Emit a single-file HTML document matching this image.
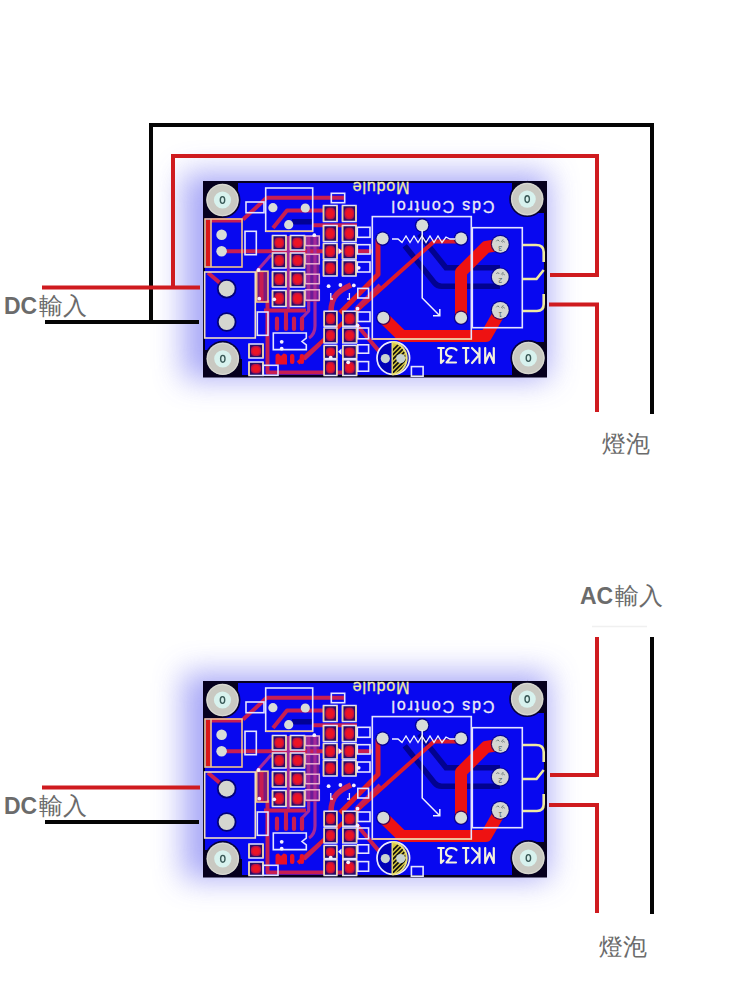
<!DOCTYPE html>
<html><head><meta charset="utf-8">
<style>
html,body{margin:0;padding:0;background:#fff;width:750px;height:1000px;overflow:hidden}
svg{display:block}
.lbl{font-family:"Liberation Sans",sans-serif;fill:#6b6b6b}
</style></head>
<body>
<svg width="750" height="1000" viewBox="0 0 750 1000">
<defs>
<radialGradient id="pg" cx="0.5" cy="0.5" r="0.6"><stop offset="0.5" stop-color="#ec1424"/><stop offset="0.8" stop-color="#b0104a"/><stop offset="1" stop-color="#3a0660"/></radialGradient>
<filter id="glow" x="-40%" y="-60%" width="180%" height="220%">
<feGaussianBlur stdDeviation="15"/>
</filter>
<g id="pcb">
<rect x="188" y="176" width="366" height="206" fill="#8c8cf4" opacity="0.75" filter="url(#glow)" transform="translate(-5,-3)"/>
<rect x="203" y="181" width="344" height="196.5" fill="#06001e"/>
<rect x="205" y="183" width="339" height="192" fill="#0808f0"/>
<path d="M222.5 200 L203.0 200 A19.5 19.5 0 0 0 222.5 180.5 Z" fill="#06001e"/>
<rect x="205" y="183" width="17.5" height="35" fill="#06001e"/>
<rect x="205" y="183" width="33" height="17" fill="#06001e"/>
<path d="M527.2 199.1 L546.7 199.1 A19.5 19.5 0 0 1 527.2 179.6 Z" fill="#06001e"/>
<rect x="527" y="183" width="17" height="30" fill="#06001e"/>
<rect x="512" y="183" width="32" height="16" fill="#06001e"/>
<path d="M528.4 358 L547.9 358 A19.5 19.5 0 0 0 528.4 377.5 Z" fill="#06001e"/>
<rect x="528" y="342" width="16" height="33" fill="#06001e"/>
<rect x="512" y="358" width="32" height="17" fill="#06001e"/>
<path d="M222.8 358.8 L203.3 358.8 A19.5 19.5 0 0 1 222.8 378.3 Z" fill="#06001e"/>
<rect x="205" y="350" width="18" height="25" fill="#06001e"/>
<rect x="212" y="359" width="30" height="16" fill="#06001e"/>
<g fill="none" stroke-linejoin="round">
<path d="M412 240 L441.6 277 H500" stroke="#000070" stroke-width="24" opacity="0.75"/>
<path d="M412 240 L441.6 277 H500" stroke="#1212f4" stroke-width="13"/>
</g>
<rect x="292" y="219" width="20" height="5.5" fill="#000080" opacity="0.8"/>
<rect x="305.5" y="236" width="14" height="66" fill="#7e1e86" opacity="0.85"/>
<rect x="256.7" y="271.3" width="11.3" height="30.7" fill="#8a1e70" opacity="0.9"/>
<g fill="none" stroke="#c81e52" stroke-width="4" stroke-linejoin="round">
<path d="M221 251.3 H372"/>
<path d="M243 219.5 L266.7 197.8 H345"/>
<path d="M273 228 L287 210.6 H323"/>
<path d="M312 225.3 H357"/>
<path d="M211 220.5 H243"/>
<path d="M208 272.7 L226.7 288.7"/>
<path d="M261.5 271 V302"/>
<path d="M267.5 300 V372.5 H345"/>
<path d="M298 363 L434 241.5 H461" stroke="#dc1a2a"/>
<path d="M378 239 V274.4 L340 313" stroke-width="5" stroke="#dc1a2a"/>
<path d="M351 285 Q342 289 337 294 Q331 300 331 312" stroke-width="5.5"/>
<path d="M356 309 L380 285"/>
<path d="M356 324 L385.3 358.6"/>
<path d="M264 310.5 H306 M286 310.5 V318"/>
<path d="M304 359 L320 344"/>
</g>
<g fill="none" stroke="#a4289a" stroke-width="3.2" stroke-linejoin="round">
<path d="M302 318 L308.7 311 V236"/>
<path d="M288.5 236 V309"/>
<path d="M315 236 V326 Q315 334 309 338"/>
<path d="M256.7 271.3 L271.3 254.7"/>
</g>
<g fill="none" stroke="#c81e52" stroke-width="4.2" stroke-linecap="round">
<path d="M277 318.5 V329 M286 318.5 V329 M294 318.5 V329 M302 318.5 V329"/>
</g>
<rect x="206" y="220" width="4.5" height="46" fill="#d81818"/>
<g fill="none" stroke="#ee1212" stroke-width="12" stroke-linejoin="round" stroke-linecap="round">
<path d="M498 245 L486 247 L461 272 V318"/>
<path d="M383.3 317.8 L402 336 H486 L500.3 311"/>
</g>
<rect x="272.5" y="235.5" width="13.5" height="14.5" fill="#20106a"/>
<rect x="274.3" y="237.5" width="9.9" height="10.5" fill="url(#pg)"/>
<rect x="272.5" y="235.5" width="13.5" height="14.5" fill="none" stroke="#e4e4ff" stroke-width="1.5"/>
<path d="M272.5 235.5 V250 M286 235.5 V250" stroke="#f2d49a" stroke-width="1.5"/>
<rect x="272.5" y="253" width="13.5" height="15.0" fill="#20106a"/>
<rect x="274.3" y="255.0" width="9.9" height="11.0" fill="url(#pg)"/>
<rect x="272.5" y="253" width="13.5" height="15.0" fill="none" stroke="#e4e4ff" stroke-width="1.5"/>
<path d="M272.5 253 V268 M286 253 V268" stroke="#f2d49a" stroke-width="1.5"/>
<rect x="272.5" y="271.5" width="13.5" height="15.5" fill="#20106a"/>
<rect x="274.3" y="273.5" width="9.9" height="11.5" fill="url(#pg)"/>
<rect x="272.5" y="271.5" width="13.5" height="15.5" fill="none" stroke="#e4e4ff" stroke-width="1.5"/>
<path d="M272.5 271.5 V287 M286 271.5 V287" stroke="#f2d49a" stroke-width="1.5"/>
<rect x="272.5" y="290.5" width="13.5" height="16.0" fill="#20106a"/>
<rect x="274.3" y="292.5" width="9.9" height="12.0" fill="url(#pg)"/>
<rect x="272.5" y="290.5" width="13.5" height="16.0" fill="none" stroke="#e4e4ff" stroke-width="1.5"/>
<path d="M272.5 290.5 V306.5 M286 290.5 V306.5" stroke="#f2d49a" stroke-width="1.5"/>
<rect x="290.5" y="235.5" width="14.0" height="14.5" fill="#20106a"/>
<rect x="292.3" y="237.5" width="10.4" height="10.5" fill="url(#pg)"/>
<rect x="290.5" y="235.5" width="14.0" height="14.5" fill="none" stroke="#e4e4ff" stroke-width="1.5"/>
<path d="M290.5 235.5 V250 M304.5 235.5 V250" stroke="#f2d49a" stroke-width="1.5"/>
<rect x="290.5" y="253" width="14.0" height="15.0" fill="#20106a"/>
<rect x="292.3" y="255.0" width="10.4" height="11.0" fill="url(#pg)"/>
<rect x="290.5" y="253" width="14.0" height="15.0" fill="none" stroke="#e4e4ff" stroke-width="1.5"/>
<path d="M290.5 253 V268 M304.5 253 V268" stroke="#f2d49a" stroke-width="1.5"/>
<rect x="290.5" y="271.5" width="14.0" height="15.5" fill="#20106a"/>
<rect x="292.3" y="273.5" width="10.4" height="11.5" fill="url(#pg)"/>
<rect x="290.5" y="271.5" width="14.0" height="15.5" fill="none" stroke="#e4e4ff" stroke-width="1.5"/>
<path d="M290.5 271.5 V287 M304.5 271.5 V287" stroke="#f2d49a" stroke-width="1.5"/>
<rect x="290.5" y="290.5" width="14.0" height="16.0" fill="#20106a"/>
<rect x="292.3" y="292.5" width="10.4" height="12.0" fill="url(#pg)"/>
<rect x="290.5" y="290.5" width="14.0" height="16.0" fill="none" stroke="#e4e4ff" stroke-width="1.5"/>
<path d="M290.5 290.5 V306.5 M304.5 290.5 V306.5" stroke="#f2d49a" stroke-width="1.5"/>
<rect x="323.5" y="205.5" width="13.5" height="16.0" fill="#20106a"/>
<rect x="325.3" y="207.5" width="9.9" height="12.0" fill="url(#pg)"/>
<rect x="323.5" y="205.5" width="13.5" height="16.0" fill="none" stroke="#e4e4ff" stroke-width="1.5"/>
<path d="M323.5 205.5 V221.5 M337 205.5 V221.5" stroke="#f2d49a" stroke-width="1.5"/>
<rect x="323.5" y="225.5" width="13.5" height="16.0" fill="#20106a"/>
<rect x="325.3" y="227.5" width="9.9" height="12.0" fill="url(#pg)"/>
<rect x="323.5" y="225.5" width="13.5" height="16.0" fill="none" stroke="#e4e4ff" stroke-width="1.5"/>
<path d="M323.5 225.5 V241.5 M337 225.5 V241.5" stroke="#f2d49a" stroke-width="1.5"/>
<rect x="323.5" y="243.5" width="13.5" height="15.5" fill="#20106a"/>
<rect x="325.3" y="245.5" width="9.9" height="11.5" fill="url(#pg)"/>
<rect x="323.5" y="243.5" width="13.5" height="15.5" fill="none" stroke="#e4e4ff" stroke-width="1.5"/>
<path d="M323.5 243.5 V259 M337 243.5 V259" stroke="#f2d49a" stroke-width="1.5"/>
<rect x="323.5" y="260.5" width="13.5" height="15.5" fill="#20106a"/>
<rect x="325.3" y="262.5" width="9.9" height="11.5" fill="url(#pg)"/>
<rect x="323.5" y="260.5" width="13.5" height="15.5" fill="none" stroke="#e4e4ff" stroke-width="1.5"/>
<path d="M323.5 260.5 V276 M337 260.5 V276" stroke="#f2d49a" stroke-width="1.5"/>
<rect x="342.5" y="205.5" width="13.5" height="16.0" fill="#20106a"/>
<rect x="344.3" y="207.5" width="9.9" height="12.0" fill="url(#pg)"/>
<rect x="342.5" y="205.5" width="13.5" height="16.0" fill="none" stroke="#e4e4ff" stroke-width="1.5"/>
<path d="M342.5 205.5 V221.5 M356 205.5 V221.5" stroke="#f2d49a" stroke-width="1.5"/>
<rect x="342.5" y="225.5" width="13.5" height="16.0" fill="#20106a"/>
<rect x="344.3" y="227.5" width="9.9" height="12.0" fill="url(#pg)"/>
<rect x="342.5" y="225.5" width="13.5" height="16.0" fill="none" stroke="#e4e4ff" stroke-width="1.5"/>
<path d="M342.5 225.5 V241.5 M356 225.5 V241.5" stroke="#f2d49a" stroke-width="1.5"/>
<rect x="342.5" y="243.5" width="13.5" height="15.5" fill="#20106a"/>
<rect x="344.3" y="245.5" width="9.9" height="11.5" fill="url(#pg)"/>
<rect x="342.5" y="243.5" width="13.5" height="15.5" fill="none" stroke="#e4e4ff" stroke-width="1.5"/>
<path d="M342.5 243.5 V259 M356 243.5 V259" stroke="#f2d49a" stroke-width="1.5"/>
<rect x="342.5" y="260.5" width="13.5" height="15.5" fill="#20106a"/>
<rect x="344.3" y="262.5" width="9.9" height="11.5" fill="url(#pg)"/>
<rect x="342.5" y="260.5" width="13.5" height="15.5" fill="none" stroke="#e4e4ff" stroke-width="1.5"/>
<path d="M342.5 260.5 V276 M356 260.5 V276" stroke="#f2d49a" stroke-width="1.5"/>
<rect x="324.2" y="311.2" width="12.6" height="15.0" fill="#20106a"/>
<rect x="326.0" y="313.2" width="9.0" height="11.0" fill="url(#pg)"/>
<rect x="324.2" y="311.2" width="12.6" height="15.0" fill="none" stroke="#e4e4ff" stroke-width="1.5"/>
<path d="M324.2 311.2 V326.2 M336.8 311.2 V326.2" stroke="#f2d49a" stroke-width="1.5"/>
<rect x="324.2" y="328" width="12.6" height="15.0" fill="#20106a"/>
<rect x="326.0" y="330.0" width="9.0" height="11.0" fill="url(#pg)"/>
<rect x="324.2" y="328" width="12.6" height="15.0" fill="none" stroke="#e4e4ff" stroke-width="1.5"/>
<path d="M324.2 328 V343 M336.8 328 V343" stroke="#f2d49a" stroke-width="1.5"/>
<rect x="324.2" y="345.4" width="12.6" height="13.2" fill="#20106a"/>
<rect x="326.0" y="347.4" width="9.0" height="9.2" fill="url(#pg)"/>
<rect x="324.2" y="345.4" width="12.6" height="13.2" fill="none" stroke="#e4e4ff" stroke-width="1.5"/>
<path d="M324.2 345.4 V358.6 M336.8 345.4 V358.6" stroke="#f2d49a" stroke-width="1.5"/>
<rect x="324.2" y="359.8" width="12.6" height="15.7" fill="#20106a"/>
<rect x="326.0" y="361.8" width="9.0" height="11.7" fill="url(#pg)"/>
<rect x="324.2" y="359.8" width="12.6" height="15.7" fill="none" stroke="#e4e4ff" stroke-width="1.5"/>
<path d="M324.2 359.8 V375.5 M336.8 359.8 V375.5" stroke="#f2d49a" stroke-width="1.5"/>
<rect x="342.8" y="311.2" width="13.8" height="15.0" fill="#20106a"/>
<rect x="344.6" y="313.2" width="10.2" height="11.0" fill="url(#pg)"/>
<rect x="342.8" y="311.2" width="13.8" height="15.0" fill="none" stroke="#e4e4ff" stroke-width="1.5"/>
<path d="M342.8 311.2 V326.2 M356.6 311.2 V326.2" stroke="#f2d49a" stroke-width="1.5"/>
<rect x="342.8" y="328" width="13.8" height="15.0" fill="#20106a"/>
<rect x="344.6" y="330.0" width="10.2" height="11.0" fill="url(#pg)"/>
<rect x="342.8" y="328" width="13.8" height="15.0" fill="none" stroke="#e4e4ff" stroke-width="1.5"/>
<path d="M342.8 328 V343 M356.6 328 V343" stroke="#f2d49a" stroke-width="1.5"/>
<rect x="342.8" y="345.4" width="13.8" height="13.2" fill="#20106a"/>
<rect x="344.6" y="347.4" width="10.2" height="9.2" fill="url(#pg)"/>
<rect x="342.8" y="345.4" width="13.8" height="13.2" fill="none" stroke="#e4e4ff" stroke-width="1.5"/>
<path d="M342.8 345.4 V358.6 M356.6 345.4 V358.6" stroke="#f2d49a" stroke-width="1.5"/>
<rect x="342.8" y="359.8" width="13.8" height="15.7" fill="#20106a"/>
<rect x="344.6" y="361.8" width="10.2" height="11.7" fill="url(#pg)"/>
<rect x="342.8" y="359.8" width="13.8" height="15.7" fill="none" stroke="#e4e4ff" stroke-width="1.5"/>
<path d="M342.8 359.8 V375.5 M356.6 359.8 V375.5" stroke="#f2d49a" stroke-width="1.5"/>
<rect x="249" y="344" width="14.0" height="14.0" fill="#20106a"/>
<rect x="250.8" y="346.0" width="10.4" height="10.0" fill="url(#pg)"/>
<rect x="249" y="344" width="14.0" height="14.0" fill="none" stroke="#e4e4ff" stroke-width="1.5"/>
<path d="M249 344 V358 M263 344 V358" stroke="#f2d49a" stroke-width="1.5"/>
<rect x="249" y="362" width="14.0" height="13.5" fill="#20106a"/>
<rect x="250.8" y="364.0" width="10.4" height="9.5" fill="url(#pg)"/>
<rect x="249" y="362" width="14.0" height="13.5" fill="none" stroke="#e4e4ff" stroke-width="1.5"/>
<path d="M249 362 V375.5 M263 362 V375.5" stroke="#f2d49a" stroke-width="1.5"/>
<path d="M275.5 356 Q275.5 353.5 278.5 353.5 L281 356 L283.5 353.5 Q287 353.5 287 356 V364.5 H275.5 Z" fill="#e8102a"/>
<rect x="290" y="354" width="4.4" height="10" rx="2" fill="#e8102a"/>
<rect x="299.7" y="354" width="4.4" height="10" rx="2" fill="#e8102a"/>
<rect x="265.7" y="188" width="47.0" height="43.3" fill="none" stroke="#e4e4ff" stroke-width="1.6"/>
<rect x="372.3" y="216.6" width="99.0" height="122.4" fill="none" stroke="#e4e4ff" stroke-width="1.6"/>
<rect x="472.3" y="227.7" width="50.0" height="100.0" fill="none" stroke="#e4e4ff" stroke-width="1.6"/>
<rect x="246" y="202" width="18.0" height="10.7" fill="none" stroke="#e4e4ff" stroke-width="1.6"/>
<rect x="245" y="231.3" width="11.3" height="23.4" fill="none" stroke="#e4e4ff" stroke-width="1.6"/>
<rect x="257.3" y="312" width="10.7" height="23.3" fill="none" stroke="#e4e4ff" stroke-width="1.6"/>
<rect x="331.3" y="193.3" width="13.4" height="9.4" fill="none" stroke="#e4e4ff" stroke-width="1.6"/>
<rect x="357.3" y="227.3" width="12.7" height="10.0" fill="none" stroke="#e4e4ff" stroke-width="1.6"/>
<rect x="357.3" y="244.7" width="12.7" height="9.3" fill="none" stroke="#e4e4ff" stroke-width="1.6"/>
<rect x="357.8" y="288.4" width="10.8" height="9.6" fill="none" stroke="#e4e4ff" stroke-width="1.6"/>
<rect x="357.8" y="328" width="10.8" height="10.8" fill="none" stroke="#e4e4ff" stroke-width="1.6"/>
<rect x="357.8" y="344.8" width="10.8" height="8.4" fill="none" stroke="#e4e4ff" stroke-width="1.6"/>
<rect x="357.8" y="361.6" width="10.8" height="9.6" fill="none" stroke="#e4e4ff" stroke-width="1.6"/>
<rect x="263.3" y="365.3" width="14.7" height="10.0" fill="none" stroke="#e4e4ff" stroke-width="1.6"/>
<rect x="411.4" y="366.6" width="11.7" height="9.6" fill="none" stroke="#e4e4ff" stroke-width="1.6"/>
<rect x="357.3" y="262" width="12.7" height="10.0" fill="none" stroke="#e4e4ff" stroke-width="1.6"/>
<rect x="357.8" y="312" width="12.2" height="9.5" fill="none" stroke="#e4e4ff" stroke-width="1.6"/>
<rect x="204.7" y="272" width="50.6" height="66.0" fill="none" stroke="#f0dcc0" stroke-width="1.6"/>
<rect x="205" y="219" width="37.0" height="48.0" fill="none" stroke="#f2c48a" stroke-width="1.6"/>
<path d="M211 219 V267" stroke="#f2c48a" stroke-width="1.6"/>
<rect x="256.7" y="271.3" width="11.3" height="30.7" fill="none" stroke="#f2c48a" stroke-width="1.6"/>
<path d="M273.3 333 H306.3 V338 L302 341.5 L306.3 345 V349.6 H273.3 Z" fill="none" stroke="#e4e4ff" stroke-width="1.6"/>
<rect x="305.5" y="236" width="13.8" height="9.6" fill="none" stroke="#e8b0d0" stroke-width="1.5"/>
<rect x="305.5" y="254.3" width="13.8" height="9.5" fill="none" stroke="#e8b0d0" stroke-width="1.5"/>
<rect x="305.5" y="274.2" width="13.8" height="9.5" fill="none" stroke="#e8b0d0" stroke-width="1.5"/>
<rect x="305.5" y="289.8" width="13.8" height="10.4" fill="none" stroke="#e8b0d0" stroke-width="1.5"/>
<path d="M265.7 231.3 H312.7" stroke="#f2c48a" stroke-width="1.6"/>
<path d="M372.3 339 H471.3" stroke="#f2c48a" stroke-width="1.6"/>
<circle cx="258.5" cy="270" r="1.9" fill="#f4f0ff"/>
<circle cx="259.3" cy="298.7" r="1.9" fill="#f4f0ff"/>
<circle cx="274.2" cy="299.3" r="1.9" fill="#f4f0ff"/>
<circle cx="281.7" cy="341.8" r="1.9" fill="#f4f0ff"/>
<circle cx="281.7" cy="348.7" r="1.9" fill="#f4f0ff"/>
<circle cx="328.6" cy="286.2" r="1.9" fill="#f4f0ff"/>
<circle cx="340.4" cy="285" r="1.9" fill="#f4f0ff"/>
<circle cx="353.8" cy="285.4" r="1.9" fill="#f4f0ff"/>
<circle cx="357.5" cy="308.7" r="1.9" fill="#f4f0ff"/>
<circle cx="357.5" cy="325.5" r="1.9" fill="#f4f0ff"/>
<circle cx="358.7" cy="267.8" r="1.9" fill="#f4f0ff"/>
<circle cx="330.7" cy="357.7" r="1.9" fill="#f4f0ff"/>
<circle cx="348.2" cy="362.3" r="1.9" fill="#f4f0ff"/>
<circle cx="314.3" cy="235.2" r="1.9" fill="#f4f0ff"/>
<path d="M338.5 248 L342 251.2 L338.5 254.5 Z" fill="#f4f0ff"/>
<path d="M341.5 348.5 L338 351.8 L341.5 355 Z" fill="#f4f0ff"/>
<path d="M330.8 293 V299 H333 M349.4 293 V299 H347" fill="none" stroke="#f4f0ff" stroke-width="1.3"/>
<circle cx="222.5" cy="200" r="18" fill="#06001e" opacity="0.85"/>
<circle cx="222.5" cy="200" r="16.3" fill="#c9c9c2"/>
<circle cx="222.5" cy="200" r="15.6" fill="none" stroke="#dcdcd6" stroke-width="0.9"/>
<circle cx="222.5" cy="200" r="8.6" fill="#d8f2ee"/>
<ellipse cx="222.5" cy="200" rx="2.2" ry="3.4" fill="none" stroke="#3a5a58" stroke-width="1.4"/>
<circle cx="222.8" cy="358.8" r="18" fill="#06001e" opacity="0.85"/>
<circle cx="222.8" cy="358.8" r="16.3" fill="#c9c9c2"/>
<circle cx="222.8" cy="358.8" r="15.6" fill="none" stroke="#dcdcd6" stroke-width="0.9"/>
<circle cx="222.8" cy="358.8" r="8.6" fill="#d8f2ee"/>
<ellipse cx="222.8" cy="358.8" rx="2.2" ry="3.4" fill="none" stroke="#3a5a58" stroke-width="1.4"/>
<circle cx="527.2" cy="199.1" r="18" fill="#06001e" opacity="0.85"/>
<circle cx="527.2" cy="199.1" r="16.3" fill="#c9c9c2"/>
<circle cx="527.2" cy="199.1" r="15.6" fill="none" stroke="#dcdcd6" stroke-width="0.9"/>
<circle cx="527.2" cy="199.1" r="8.6" fill="#d8f2ee"/>
<ellipse cx="527.2" cy="199.1" rx="2.2" ry="3.4" fill="none" stroke="#3a5a58" stroke-width="1.4"/>
<circle cx="528.4" cy="358" r="18" fill="#06001e" opacity="0.85"/>
<circle cx="528.4" cy="358" r="16.3" fill="#c9c9c2"/>
<circle cx="528.4" cy="358" r="15.6" fill="none" stroke="#dcdcd6" stroke-width="0.9"/>
<circle cx="528.4" cy="358" r="8.6" fill="#d8f2ee"/>
<ellipse cx="528.4" cy="358" rx="2.2" ry="3.4" fill="none" stroke="#3a5a58" stroke-width="1.4"/>
<circle cx="226.7" cy="288.7" r="9.8" fill="#000050" opacity="0.75"/>
<circle cx="226.7" cy="288.7" r="8" fill="#d4d6d0"/>
<circle cx="226.7" cy="322" r="9.8" fill="#000050" opacity="0.75"/>
<circle cx="226.7" cy="322" r="8" fill="#d4d6d0"/>
<circle cx="221.6" cy="234.7" r="5.3" fill="#d8dcd8"/>
<circle cx="221.6" cy="251.3" r="5.3" fill="#d8dcd8"/>
<circle cx="272.9" cy="207.7" r="4.6" fill="#d8dcd8"/>
<circle cx="305.3" cy="208" r="4.6" fill="#d8dcd8"/>
<circle cx="288.7" cy="224.7" r="4.6" fill="#d8dcd8"/>
<circle cx="382.6" cy="238.6" r="7.3" fill="#000070" opacity="0.7"/>
<circle cx="382.6" cy="238.6" r="6" fill="#d6dcd8"/>
<circle cx="422.2" cy="225.4" r="7.3" fill="#000070" opacity="0.7"/>
<circle cx="422.2" cy="225.4" r="6" fill="#d6dcd8"/>
<circle cx="461.1" cy="238.6" r="7.3" fill="#000070" opacity="0.7"/>
<circle cx="461.1" cy="238.6" r="6" fill="#d6dcd8"/>
<circle cx="383.3" cy="317.8" r="7.3" fill="#000070" opacity="0.7"/>
<circle cx="383.3" cy="317.8" r="6" fill="#d6dcd8"/>
<circle cx="461.1" cy="317.8" r="7.3" fill="#000070" opacity="0.7"/>
<circle cx="461.1" cy="317.8" r="6" fill="#d6dcd8"/>
<circle cx="500.3" cy="244.3" r="9.6" fill="#000070" opacity="0.7"/>
<circle cx="500.3" cy="244.3" r="8.4" fill="#d4d6d2"/>
<text transform="rotate(180 500.3 244.3)" x="500.3" y="243.10000000000002" text-anchor="middle" font-family="Liberation Sans, sans-serif" font-size="7" fill="#4a5a58">3</text>
<path d="M496.3 241.3 q1.5 -3 3 0 M501.3 241.8 l2 -2.5 M502.3 242.3 q1.5 -2 2.5 0" fill="none" stroke="#5a6a68" stroke-width="0.8"/>
<circle cx="500.3" cy="277" r="9.6" fill="#000070" opacity="0.7"/>
<circle cx="500.3" cy="277" r="8.4" fill="#d4d6d2"/>
<text transform="rotate(180 500.3 277)" x="500.3" y="275.8" text-anchor="middle" font-family="Liberation Sans, sans-serif" font-size="7" fill="#4a5a58">2</text>
<path d="M496.3 274 q1.5 -3 3 0 M501.3 274.5 l2 -2.5 M502.3 275 q1.5 -2 2.5 0" fill="none" stroke="#5a6a68" stroke-width="0.8"/>
<circle cx="500.3" cy="310.3" r="9.6" fill="#000070" opacity="0.7"/>
<circle cx="500.3" cy="310.3" r="8.4" fill="#d4d6d2"/>
<text transform="rotate(180 500.3 310.3)" x="500.3" y="309.1" text-anchor="middle" font-family="Liberation Sans, sans-serif" font-size="7" fill="#4a5a58">1</text>
<path d="M496.3 307.3 q1.5 -3 3 0 M501.3 307.8 l2 -2.5 M502.3 308.3 q1.5 -2 2.5 0" fill="none" stroke="#5a6a68" stroke-width="0.8"/>
<path d="M392 239 H398 L402 242.5 L406 236 L410 242.5 L414 236 L418 242.5 L422 236 L426 242.5 L430 236 L434 242.5 L438 236 L442 242.5 L446 237 L450 239 H455" fill="none" stroke="#f0f0ff" stroke-width="1.3"/>
<path d="M422.2 230 V298 L439.5 315.5 M433 315.8 H439.8 V309" fill="none" stroke="#f0f0ff" stroke-width="1.5"/>
<path d="M523 245 H536 Q543.7 245 543.7 252 V262 M543.7 270 L536.5 279 H523" fill="none" stroke="#f0eaa0" stroke-width="2.6"/>
<path d="M523 311 H537 Q543.7 311 543.7 304 V294" fill="none" stroke="#f0eaa0" stroke-width="2.6"/>
<circle cx="393.3" cy="358.1" r="16.3" fill="#0000b8" stroke="#ecebff" stroke-width="1.7"/>
<path d="M392.2 342 A16.3 16.3 0 0 1 392.2 374.4 Z" fill="#d8c840"/>
<clipPath id="ldrc"><path d="M392.2 342 A16.3 16.3 0 0 1 392.2 374.4 Z"/></clipPath>
<g clip-path="url(#ldrc)" stroke="#101010" stroke-width="1.6">
<path d="M367.0 376 L401.0 342"/>
<path d="M371.5 376 L405.5 342"/>
<path d="M376.0 376 L410.0 342"/>
<path d="M380.5 376 L414.5 342"/>
<path d="M385.0 376 L419.0 342"/>
<path d="M389.5 376 L423.5 342"/>
<path d="M394.0 376 L428.0 342"/>
<path d="M398.5 376 L432.5 342"/>
<path d="M403.0 376 L437.0 342"/>
<path d="M407.5 376 L441.5 342"/>
<path d="M412.0 376 L446.0 342"/>
<path d="M416.5 376 L450.5 342"/>
</g>
<path d="M392.2 342 A16.3 16.3 0 0 1 392.2 374.4" fill="none" stroke="#ece27a" stroke-width="2"/>
<path d="M392.2 342 V374.4" stroke="#e8e070" stroke-width="1.4"/>
<circle cx="385.3" cy="358.6" r="4.6" fill="#c8d4d0"/>
<circle cx="400.7" cy="358.6" r="4.6" fill="#c8d4d0"/>
<g transform="rotate(180 466.25 356)" fill="none" stroke="#f4f2dc" stroke-width="2.2" stroke-linecap="round" stroke-linejoin="round">
<path d="M438.7 364 V349 L443 359 L447.3 349 V364"/>
<path d="M453 349 V364 M460.5 349 L453.5 357 L460.5 364"/>
<path d="M466.5 349 V364 M464 351.5 L466.5 349 M464 364 H469.5"/>
<path d="M476.5 349.5 H486 L481 355.5 Q487 355.5 486.5 360 Q485.5 364 481 364 Q477.5 364 476 362"/>
<path d="M491.5 349 V364 M489 351.5 L491.5 349 M488.7 364 H494.3"/>
</g>
<text transform="rotate(180 443 206)" x="443" y="211.5" text-anchor="middle" font-family="Liberation Sans, sans-serif" font-size="16" fill="#ececf6" stroke="#ececf6" stroke-width="0.3" textLength="103" lengthAdjust="spacing">Cds Control</text>
<text transform="rotate(180 381 189)" x="381" y="195.8" text-anchor="middle" font-family="Liberation Sans, sans-serif" font-size="16" fill="#f0eaa0" stroke="#f0eaa0" stroke-width="0.3" textLength="57" lengthAdjust="spacing">Module</text>
</g>
</defs>
<use href="#pcb"/>
<use href="#pcb" transform="translate(0,500)"/>
<g fill="none" stroke-linecap="butt" stroke-linejoin="miter">
<path d="M45 322 H199 M151 322 V125 H652 V414" stroke="#050505" stroke-width="4"/>
<path d="M42 287.6 H200 M173 287.6 V156 H597 V275 H550" stroke="#cf1b1f" stroke-width="4"/>
<path d="M549 304.5 H597 V412" stroke="#cf1b1f" stroke-width="4"/>
<path d="M45 822 H199" stroke="#050505" stroke-width="4"/>
<path d="M42 787.6 H200" stroke="#cf1b1f" stroke-width="4"/>
<path d="M550 775 H597 V637" stroke="#cf1b1f" stroke-width="4"/>
<path d="M549 805 H597 V913" stroke="#cf1b1f" stroke-width="4"/>
<path d="M652 637 V914" stroke="#050505" stroke-width="4"/>
<path d="M592 626.5 H647" stroke="#f0f0f0" stroke-width="1.5"/>
</g>
<text class="lbl" x="4" y="314" font-size="23" font-weight="bold">DC<tspan font-weight="normal" font-size="24" dx="2">輸入</tspan></text>
<text class="lbl" x="4" y="814" font-size="23" font-weight="bold">DC<tspan font-weight="normal" font-size="24" dx="2">輸入</tspan></text>
<text class="lbl" x="580" y="603.5" font-size="23" font-weight="bold">AC<tspan font-weight="normal" font-size="24" dx="2">輸入</tspan></text>
<text class="lbl" x="602" y="452" font-size="24">燈泡</text>
<text class="lbl" x="599" y="955" font-size="24">燈泡</text>
</svg>
</body></html>
